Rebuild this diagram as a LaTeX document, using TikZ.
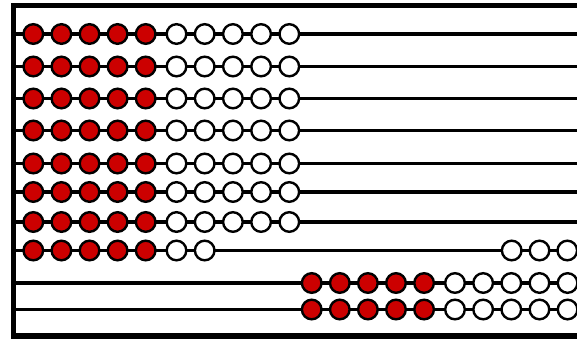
\documentclass[tikz,border=0pt]{standalone}
\definecolor{beadred}{RGB}{204,0,0}
\tikzset{
  rod/.style={line width=3.4pt},
  frameline/.style={line width=5.5pt, line join=miter},
  bead/.style={circle, draw=black, line width=2.4pt, minimum size=19.6pt, inner sep=0pt},
  redbead/.style={bead, fill=beadred},
  whitebead/.style={bead, fill=white}
}
\begin{document}
\begin{tikzpicture}[x=1pt,y=-1pt]
\useasboundingbox (0,0) rectangle (577,340);
\clip (0,0) rectangle (577,340);
% rods
\foreach \y [count=\r] in {34,66.5,98.5,130.5,163.5,192,222,250.5,283,309.5} {
  \coordinate (s\r) at (13.5,\y);
  \coordinate (e\r) at (585,\y);
  \draw[rod] (s\r) -- (e\r);
}
% frame
\coordinate (ftr) at (585,5.5);
\coordinate (ftl) at (13.5,5.5);
\coordinate (fbl) at (13.5,336);
\coordinate (fbr) at (585,336);
\draw[frameline] (ftr) -- (ftl) -- (fbl) -- (fbr);
% rows 1-8: five red beads on the left
\foreach \y [count=\r] in {34,66.5,98.5,130.5,163.5,192,222,250.5} {
  \foreach \i in {0,...,4} {
    \node[redbead] (r\r-\i) at ({33.3+28.1*\i},\y) {};
  }
}
% rows 1-7: five white beads on the left
\foreach \y [count=\r] in {34,66.5,98.5,130.5,163.5,192,222} {
  \foreach \i in {0,...,4} {
    \node[whitebead] (w\r-\i) at ({176.5+28.2*\i},\y) {};
  }
}
% row 8: two white beads left, three right
\foreach \i in {0,1} {
  \node[whitebead] (w8-\i) at ({176.5+28.2*\i},250.5) {};
}
\foreach \i in {0,1,2} {
  \node[whitebead] (v8-\i) at ({511.7+27.8*\i},250.5) {};
}
% rows 9-10: beads on the right
\foreach \y [count=\r from 9] in {283,309.5} {
  \foreach \i in {0,...,4} {
    \node[redbead] (r\r-\i) at ({311.7+28.1*\i},\y) {};
    \node[whitebead] (w\r-\i) at ({455+28.15*\i},\y) {};
  }
}
\end{tikzpicture}
\end{document}
